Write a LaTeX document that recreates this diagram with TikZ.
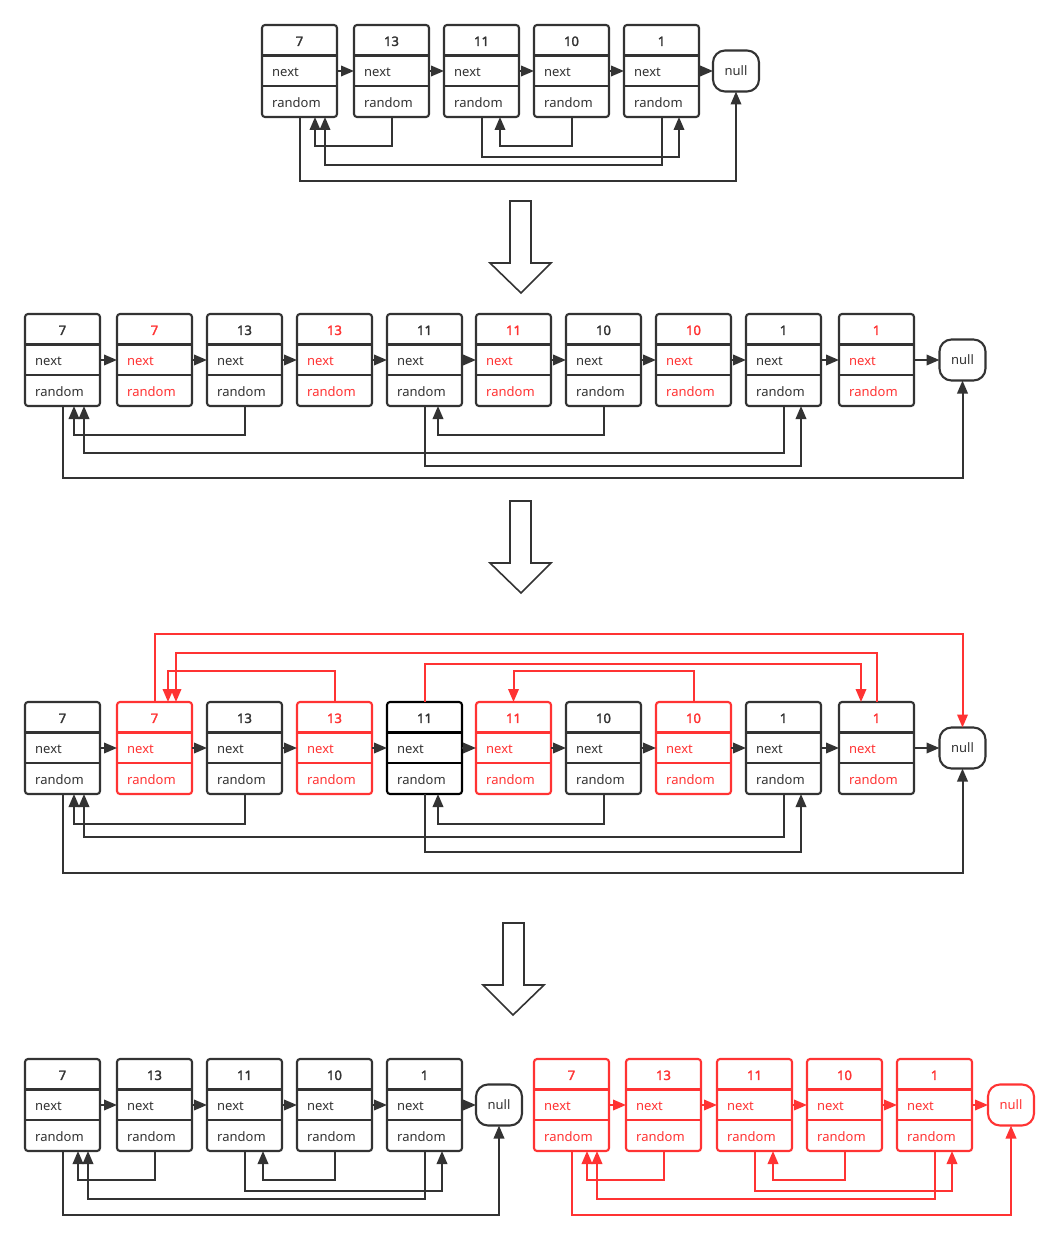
\documentclass[tikz,border=0pt]{standalone}
\usepackage{fontspec}
\setmainfont{Noto Sans}
\newfontfamily\ttlfont{Noto Sans}[FakeBold=2.2]
\usetikzlibrary{arrows.meta,calc}
\definecolor{dk}{HTML}{333333}
\definecolor{rd}{HTML}{FF3333}
\tikzset{
  lbox/.style={draw=#1, line width=2.1pt, rounded corners=3pt, minimum width=75pt, minimum height=92pt, inner sep=0pt, outer sep=0pt, anchor=north west},
  divl/.style={draw=#1, line width=2.1pt},
  ttl/.style={font=\fontsize{13}{15}\selectfont\ttlfont, text=#1, inner sep=0pt},
  fld/.style={font=\fontsize{13}{15}\selectfont, text=#1, inner sep=0pt, anchor=west},
  nullbox/.style={draw=#1, line width=2.1pt, rounded corners=12pt, minimum width=46pt, minimum height=41pt, inner sep=0pt, outer sep=0pt, font=\fontsize{13}{15}\selectfont, text=#1},
  conn/.style={draw=#1, line width=2pt, -{Triangle[length=13pt,width=10.5pt]}},
  bigarrow/.style={draw=dk, line width=1.6pt, fill=white, line join=miter},
}
% name, left, top, value, border colour, text colour
\newcommand\lbx[6]{%
  \node[lbox=#5] (#1) at (#2,#3) {};
  \draw[divl=#5] ($(#1.north west)+(0,30.5)$) -- ($(#1.north east)+(0,30.5)$);
  \draw[divl=#5] ($(#1.north west)+(0,61)$) -- ($(#1.north east)+(0,61)$);
  \node[ttl=#6] (#1t) at ($(#1.north)+(0,16.3)$) {#4};
  \node[fld=#6] (#1n) at ($(#1.north west)+(10,47)$) {next};
  \node[fld=#6] (#1r) at ($(#1.north west)+(10,77.2)$) {random};
}
% five-node list connectors: names 1..5, null, colour
\newcommand\fivelinks[7]{%
  \draw[conn=#7] (#1.east) -- (#2.west);
  \draw[conn=#7] (#2.east) -- (#3.west);
  \draw[conn=#7] (#3.east) -- (#4.west);
  \draw[conn=#7] (#4.east) -- (#5.west);
  \draw[conn=#7] (#5.east) -- (#6.west);
  \draw[conn=#7] (#2.south) -- ++(0,29) -| ([xshift=15.5pt]#1.south);
  \draw[conn=#7] (#4.south) -- ++(0,29) -| ([xshift=18.5pt]#3.south);
  \draw[conn=#7] (#3.south) -- ++(0,40) -| ([xshift=17.5pt]#5.south);
  \draw[conn=#7] (#5.south) -- ++(0,48) -| ([xshift=25.5pt]#1.south);
  \draw[conn=#7] (#1.south) -- ++(0,64) -| (#6.south);
}
\begin{document}
\begin{tikzpicture}[x=1pt,y=-1pt]
\fill[white] (0,0) rectangle (1058,1241);
\useasboundingbox (0,0) rectangle (1058,1241);

% ---------- row 1 ----------
\lbx{Ab1}{262}{25}{7}{dk}{dk}
\lbx{Ab2}{354}{25}{13}{dk}{dk}
\lbx{Ab3}{444}{25}{11}{dk}{dk}
\lbx{Ab4}{534}{25}{10}{dk}{dk}
\lbx{Ab5}{624}{25}{1}{dk}{dk}
\node[nullbox=dk] (Anull) at (736,71) {null};
\fivelinks{Ab1}{Ab2}{Ab3}{Ab4}{Ab5}{Anull}{dk}

\draw[bigarrow] (510,201) -- (531,201) -- (531,263) -- (551,263) -- (521,293) -- (490,263) -- (510,263) -- cycle;

% ---------- row 2 ----------
\lbx{Bb1}{25}{314}{7}{dk}{dk}
\lbx{Bb2}{117}{314}{7}{dk}{rd}
\lbx{Bb3}{207}{314}{13}{dk}{dk}
\lbx{Bb4}{297}{314}{13}{dk}{rd}
\lbx{Bb5}{387}{314}{11}{dk}{dk}
\lbx{Bb6}{476}{314}{11}{dk}{rd}
\lbx{Bb7}{566}{314}{10}{dk}{dk}
\lbx{Bb8}{656}{314}{10}{dk}{rd}
\lbx{Bb9}{746}{314}{1}{dk}{dk}
\lbx{Bb10}{839}{314}{1}{dk}{rd}
\node[nullbox=dk] (Bnull) at (962.5,360) {null};
\foreach \i/\j in {1/2,2/3,3/4,4/5,5/6,6/7,7/8,8/9,9/10}
  \draw[conn=dk] (Bb\i.east) -- (Bb\j.west);
\draw[conn=dk] (Bb10.east) -- (Bnull.west);
\draw[conn=dk] (Bb3.south) -- ++(0,29) -| ([xshift=11.5pt]Bb1.south);
\draw[conn=dk] (Bb7.south) -- ++(0,29) -| ([xshift=13.5pt]Bb5.south);
\draw[conn=dk] (Bb9.south) -- ++(0,47) -| ([xshift=21.5pt]Bb1.south);
\draw[conn=dk] (Bb5.south) -- ++(0,60) -| ([xshift=17.5pt]Bb9.south);
\draw[conn=dk] (Bb1.south) -- ++(0,72) -| (Bnull.south);

\draw[bigarrow] (510,501) -- (531,501) -- (531,563) -- (551,563) -- (521,593) -- (490,563) -- (510,563) -- cycle;

% ---------- row 3 ----------
\lbx{Cb1}{25}{702}{7}{dk}{dk}
\lbx{Cb2}{117}{702}{7}{rd}{rd}
\lbx{Cb3}{207}{702}{13}{dk}{dk}
\lbx{Cb4}{297}{702}{13}{rd}{rd}
\lbx{Cb5}{387}{702}{11}{black}{dk}
\lbx{Cb6}{476}{702}{11}{rd}{rd}
\lbx{Cb7}{566}{702}{10}{dk}{dk}
\lbx{Cb8}{656}{702}{10}{rd}{rd}
\lbx{Cb9}{746}{702}{1}{dk}{dk}
\lbx{Cb10}{839}{702}{1}{dk}{rd}
\node[nullbox=dk] (Cnull) at (962.5,748) {null};
\foreach \i/\j in {1/2,2/3,3/4,4/5,5/6,6/7,7/8,8/9,9/10}
  \draw[conn=dk] (Cb\i.east) -- (Cb\j.west);
\draw[conn=dk] (Cb10.east) -- (Cnull.west);
\draw[conn=dk] (Cb3.south) -- ++(0,30) -| ([xshift=11.5pt]Cb1.south);
\draw[conn=dk] (Cb7.south) -- ++(0,30) -| ([xshift=13.5pt]Cb5.south);
\draw[conn=dk] (Cb9.south) -- ++(0,43) -| ([xshift=21.5pt]Cb1.south);
\draw[conn=dk] (Cb5.south) -- ++(0,58) -| ([xshift=17.5pt]Cb9.south);
\draw[conn=dk] (Cb1.south) -- ++(0,79) -| (Cnull.south);
\draw[conn=rd] (Cb2.north) -- ++(0,-68) -| (Cnull.north);
\draw[conn=rd] (Cb4.north) -- ++(0,-31) -| ([xshift=13.5pt]Cb2.north);
\draw[conn=rd] (Cb10.north) -- ++(0,-49) -| ([xshift=21.5pt]Cb2.north);
\draw[conn=rd] (Cb5.north) -- ++(0,-38) -| ([xshift=-15.5pt]Cb10.north);
\draw[conn=rd] (Cb8.north) -- ++(0,-31) -| (Cb6.north);

\draw[bigarrow] (503,923) -- (524,923) -- (524,985) -- (544,985) -- (513,1015) -- (483,985) -- (503,985) -- cycle;

% ---------- row 4 ----------
\lbx{Db1}{25}{1059}{7}{dk}{dk}
\lbx{Db2}{117}{1059}{13}{dk}{dk}
\lbx{Db3}{207}{1059}{11}{dk}{dk}
\lbx{Db4}{297}{1059}{10}{dk}{dk}
\lbx{Db5}{387}{1059}{1}{dk}{dk}
\node[nullbox=dk] (Dnull) at (499,1105) {null};
\fivelinks{Db1}{Db2}{Db3}{Db4}{Db5}{Dnull}{dk}

\lbx{Eb1}{534}{1059}{7}{rd}{rd}
\lbx{Eb2}{626}{1059}{13}{rd}{rd}
\lbx{Eb3}{717}{1059}{11}{rd}{rd}
\lbx{Eb4}{807}{1059}{10}{rd}{rd}
\lbx{Eb5}{897}{1059}{1}{rd}{rd}
\node[nullbox=rd] (Enull) at (1011,1105) {null};
\fivelinks{Eb1}{Eb2}{Eb3}{Eb4}{Eb5}{Enull}{rd}
\end{tikzpicture}
\end{document}
